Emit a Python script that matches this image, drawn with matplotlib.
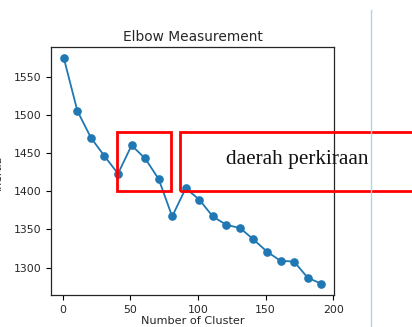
import numpy as np
import matplotlib
matplotlib.use('Agg')
import matplotlib.pyplot as plt
from matplotlib.patches import Rectangle

# number of clusters tried and the measured score
clusters = [1, 11, 21, 31, 41, 51, 61, 71, 81, 91,
            101, 111, 121, 131, 141, 151, 161, 171, 181, 191]
scores = [1574, 1505, 1470, 1446, 1423, 1460, 1443, 1416, 1367, 1404,
          1389, 1367, 1356, 1352, 1337, 1321, 1309, 1308, 1287, 1279]
label_text = 'daerah perkiraan'

fig = plt.figure(figsize=(4.12, 3.27), dpi=100)
ax = fig.add_axes([51/412, 1-295/327, (334-51)/412, (295-47)/327])

ax.plot(clusters, scores, marker='o', color='#1f77b4', markersize=5.2, linewidth=1.3)
ax.set_title('Elbow Measurement', fontsize=9.9, color='#262626', pad=4)
ax.set_xlabel('Number of Cluster', fontsize=8.1, color='#262626', labelpad=1)
ax.set_xticks([0, 50, 100, 150, 200])
ax.set_yticks([1300, 1350, 1400, 1450, 1500, 1550])
ax.tick_params(labelsize=7.8, labelcolor='#262626', length=3.5, width=0.8)
for s in ax.spines.values():
    s.set_linewidth(0.9)
    s.set_color('#262626')

# red boxes drawn over the chart
ax.add_patch(Rectangle((40, 1400), 40, 78, fill=False, edgecolor='red',
                       linewidth=2, clip_on=False, zorder=5))
ax.add_patch(Rectangle((86.5, 1400), 200, 78, fill=False, edgecolor='red',
                       linewidth=2, clip_on=False, zorder=5))
ax.text(173.5, 1442, label_text, family='Liberation Serif', fontsize=15.3,
        ha='center', va='center', color='#111111', clip_on=False, zorder=6)

# light blue vertical line at right side and cut-off y label
fig.add_artist(plt.Line2D([371/412, 371/412], [0, 1-10/327],
                          color='#a6dbe6', linewidth=1))
fig.text(-2.5/412, 1-172/327, 'Inertia', rotation=90, fontsize=7.8,
         color='#262626', ha='center', va='center')

fig.savefig('out.png', dpi=100)
